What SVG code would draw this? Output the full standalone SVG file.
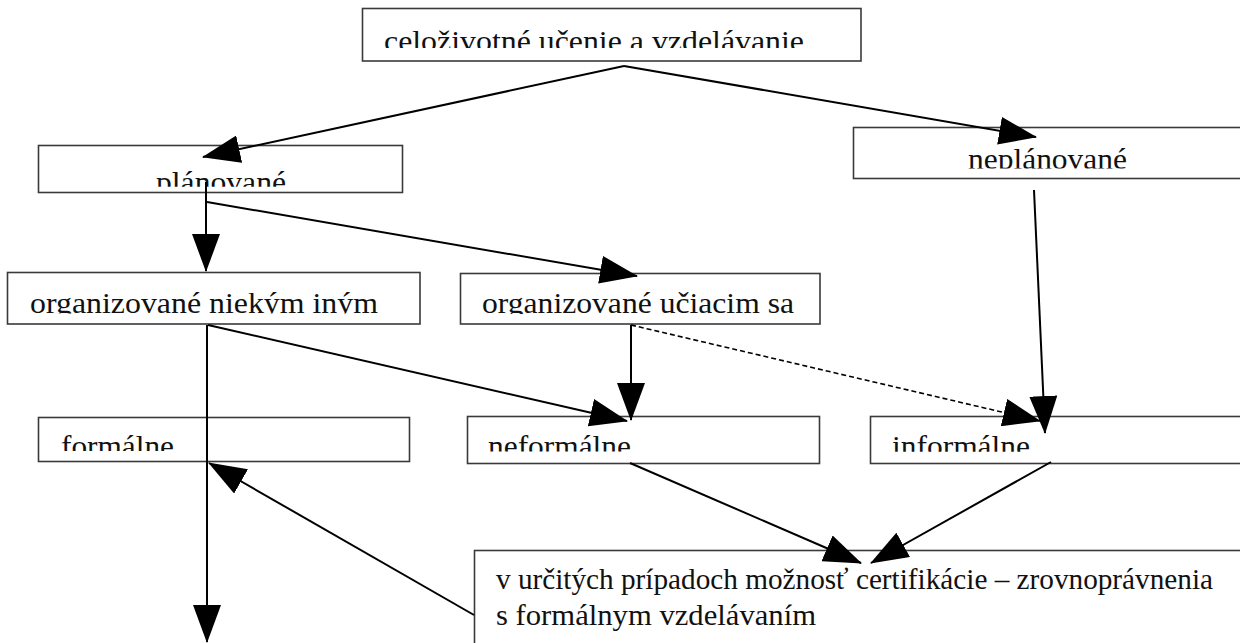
<svg xmlns="http://www.w3.org/2000/svg" width="1240" height="643" viewBox="0 0 1240 643">
<style>
  .box { fill: #ffffff; stroke: #3a3a3a; stroke-width: 1.6; }
  .t { font-family: "Liberation Serif", "DejaVu Serif", "Noto Serif", serif; font-size: 30px; fill: #111111; }
  .c { fill: none; stroke: #000000; stroke-width: 2; }
  .d { fill: none; stroke: #000000; stroke-width: 1.6; stroke-dasharray: 5 3; }
</style>
<defs>
  <marker id="ah" markerUnits="userSpaceOnUse" markerWidth="38" markerHeight="28" viewBox="0 0 38 28" refX="37" refY="14" orient="auto">
    <path d="M0,0 L38,14 L0,28 z" fill="#000000"/>
  </marker>
  <clipPath id="k0"><rect x="362" y="8" width="500" height="40"/></clipPath>
  <clipPath id="k1"><rect x="38" y="145" width="365" height="41.7"/></clipPath>
  <clipPath id="k2"><rect x="853" y="127" width="400" height="41.5"/></clipPath>
  <clipPath id="k3"><rect x="7" y="272" width="414" height="41.5"/></clipPath>
  <clipPath id="k4"><rect x="460" y="273" width="361" height="41"/></clipPath>
  <clipPath id="k5"><rect x="38" y="417" width="372" height="34"/></clipPath>
  <clipPath id="k6"><rect x="467" y="416" width="353" height="35.5"/></clipPath>
  <clipPath id="k7"><rect x="870" y="416" width="380" height="35.7"/></clipPath>
</defs>

<g id="n0">
  <rect class="box" x="362.5" y="8.5" width="498.5" height="52.5"/>
  <text class="t" font-family="Liberation Serif, serif" x="384" y="51.2" textLength="420" lengthAdjust="spacingAndGlyphs" clip-path="url(#k0)">celoživotné učenie a vzdelávanie</text>
</g>
<g id="n1">
  <rect class="box" x="38.5" y="145.5" width="364" height="47"/>
  <text class="t" font-family="Liberation Serif, serif" x="156" y="191.5" textLength="130" lengthAdjust="spacingAndGlyphs" clip-path="url(#k1)">plánované</text>
</g>
<g id="n2">
  <rect class="box" x="853.5" y="127.5" width="400" height="51"/>
  <text class="t" font-family="Liberation Serif, serif" x="968" y="169" textLength="159" lengthAdjust="spacingAndGlyphs" clip-path="url(#k2)">neplánované</text>
</g>
<g id="n3">
  <rect class="box" x="7.5" y="272.5" width="412.5" height="51.5"/>
  <text class="t" font-family="Liberation Serif, serif" x="30" y="313.2" textLength="348" lengthAdjust="spacingAndGlyphs" clip-path="url(#k3)">organizované niekým iným</text>
</g>
<g id="n4">
  <rect class="box" x="460.5" y="273.5" width="359.5" height="50.5"/>
  <text class="t" font-family="Liberation Serif, serif" x="482" y="313" textLength="312" lengthAdjust="spacingAndGlyphs" clip-path="url(#k4)">organizované učiacim sa</text>
</g>
<g id="n5">
  <rect class="box" x="38.5" y="417.5" width="371" height="44"/>
  <text class="t" font-family="Liberation Serif, serif" x="61" y="455.5" textLength="113" lengthAdjust="spacingAndGlyphs" clip-path="url(#k5)">formálne</text>
</g>
<g id="n6">
  <rect class="box" x="467.5" y="416.5" width="352" height="47"/>
  <text class="t" font-family="Liberation Serif, serif" x="488" y="455.5" textLength="143" lengthAdjust="spacingAndGlyphs" clip-path="url(#k6)">neformálne</text>
</g>
<g id="n7">
  <rect class="box" x="870.5" y="416.5" width="380" height="47"/>
  <text class="t" font-family="Liberation Serif, serif" x="892" y="455.5" textLength="138" lengthAdjust="spacingAndGlyphs" clip-path="url(#k7)">informálne</text>
</g>
<g id="n8">
  <rect class="box" x="474.5" y="550.5" width="780" height="110"/>
  <text class="t" font-family="Liberation Serif, serif" x="496" y="589" textLength="717" lengthAdjust="spacingAndGlyphs">v určitých prípadoch možnosť certifikácie – zrovnoprávnenia</text>
  <text class="t" font-family="Liberation Serif, serif" x="496" y="625" textLength="320" lengthAdjust="spacingAndGlyphs">s formálnym vzdelávaním</text>
</g>

<g id="connectors">
  <path class="c" d="M624,66 L203,157" marker-end="url(#ah)"/>
  <path class="c" d="M624,66 L1036,137" marker-end="url(#ah)"/>
  <path class="c" d="M206,182 L206,271" marker-end="url(#ah)"/>
  <path class="c" d="M207,202 L637,276" marker-end="url(#ah)"/>
  <path class="c" d="M207,325 L207,642" marker-end="url(#ah)"/>
  <path class="c" d="M208,325 L627,421" marker-end="url(#ah)"/>
  <path class="c" d="M631,325 L631,420" marker-end="url(#ah)"/>
  <path class="d" d="M631,325 L1040,421" marker-end="url(#ah)"/>
  <path class="c" d="M1034,190 L1045,433" marker-end="url(#ah)"/>
  <path class="c" d="M630,463 L861,563" marker-end="url(#ah)"/>
  <path class="c" d="M1051,462 L871,563" marker-end="url(#ah)"/>
  <path class="c" d="M474,615 L209,463" marker-end="url(#ah)"/>
</g>
</svg>
